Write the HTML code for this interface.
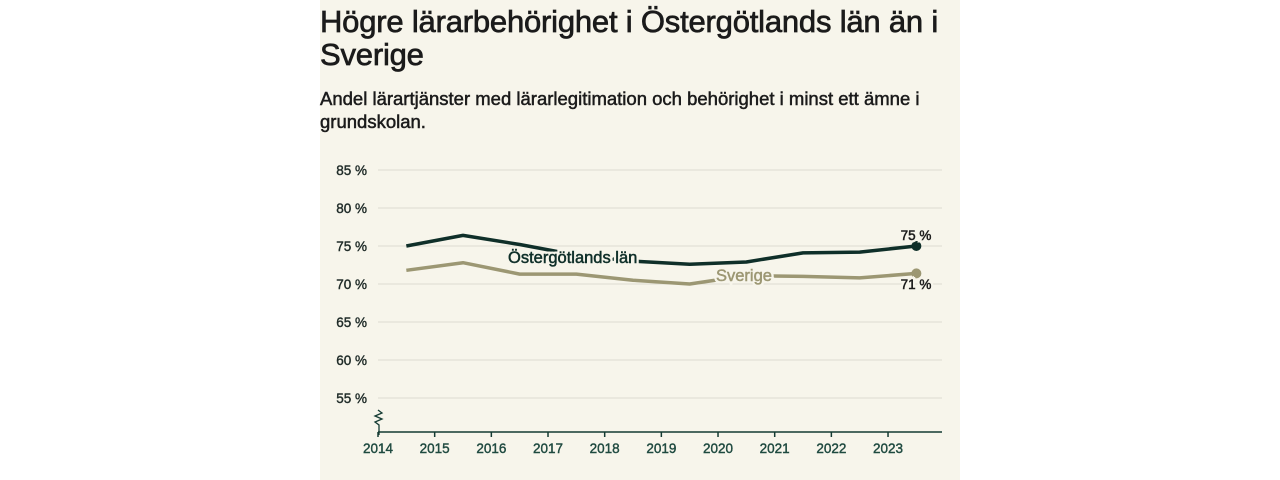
<!DOCTYPE html>
<html><head><meta charset="utf-8"><style>
body{margin:0;width:1280px;height:480px;background:#fff;font-family:"Liberation Sans",sans-serif;overflow:hidden}
#panel{position:absolute;left:320px;top:0;width:640px;height:480px;background:#f7f5eb}
h1{position:absolute;left:320px;top:5px;margin:0;width:640px;font-size:31px;line-height:33px;font-weight:normal;-webkit-text-stroke:0.7px #1b1b1b;color:#1b1b1b;letter-spacing:-0.2px}
h2{position:absolute;left:320px;top:87px;margin:0;width:640px;font-size:18.5px;line-height:23px;font-weight:normal;-webkit-text-stroke:0.5px #1b1b1b;color:#1b1b1b}
svg{position:absolute;left:0;top:0}
</style></head><body>
<div id="panel"></div>
<h1>Högre lärarbehörighet i Östergötlands län än i Sverige</h1>
<h2>Andel lärartjänster med lärarlegitimation och behörighet i minst ett ämne i grundskolan.</h2>
<svg id="c" width="1280" height="480"></svg>
<script>
const years=[2014,2015,2016,2017,2018,2019,2020,2021,2022,2023];
const yTicks=[55,60,65,70,75,80,85];
const ostValues=[75.0,76.4,75.2,73.8,73.0,72.6,72.9,74.1,74.2,75.0];
const sveValues=[71.8,72.8,71.3,71.3,70.5,70.0,71.1,71.0,70.8,71.4];
const NS="http://www.w3.org/2000/svg",svg=document.getElementById('c');
const x=v=>378+(v-2014)*56.67, y=v=>284-(v-70)*7.6;
function el(t,a,p){const e=document.createElementNS(NS,t);for(const k in a)e.setAttribute(k,a[k]);(p||svg).appendChild(e);return e;}
yTicks.forEach(t=>{
 const g=el('line',{x1:378,x2:942,y1:y(t),y2:y(t),stroke:'#dddbd0','stroke-width':1});
 
 
 const l=el('text',{x:367,y:y(t)+5,'text-anchor':'end','font-size':13.5,fill:'#1f2b28',stroke:'#1f2b28','stroke-width':0.4});l.textContent=t+' %';
 
 
});
const ax=el('line',{x1:378,x2:942,y1:432,y2:432,stroke:'#143b33','stroke-width':1.5});


const br=el('path',{d:'M378 410 l4 3 l-7 3 l7 3 l-7 3 l4 3 v10',fill:'none',stroke:'#143b33','stroke-width':1.3});


years.forEach(yr=>{
 const t=el('line',{x1:x(yr),x2:x(yr),y1:432,y2:437,stroke:'#143b33','stroke-width':1.5});
 
 
 const l=el('text',{x:x(yr),y:453,'text-anchor':'middle','font-size':13.5,fill:'#1f4a40',stroke:'#1f4a40','stroke-width':0.4});l.textContent=yr;
 
 
});
function series(vals,color,name){
 const d=vals.map((v,i)=>(i?'L':'M')+x(years[i]+0.5)+' '+y(v)).join(' ');
 const p=el('path',{d:d,fill:'none',stroke:color,'stroke-width':3.5,'stroke-linejoin':'round'});
 
 
 const n=vals.length-1;
 const c=el('circle',{cx:x(years[n]+0.5),cy:y(vals[n]),r:5,fill:color});
 
 
}
series(sveValues,'#9c9773','sverige');
series(ostValues,'#0f2f29','ostergotland');
function lab(txt,xx,yy,color,name,size,anchor){
 const h=el('text',{x:xx,y:yy,'font-size':size,fill:'#f7f5eb',stroke:'#f7f5eb','stroke-width':5,'text-anchor':anchor||'start'});h.textContent=txt;
 
 
 const t=el('text',{x:xx,y:yy,'font-size':size,fill:color,stroke:color,'stroke-width':0.5,'text-anchor':anchor||'start'});t.textContent=txt;
 
 
}
lab('Östergötlands län',508,263,'#0f2f29','ostergotland-label',16.5);
lab('Sverige',716,281,'#9c9773','sverige-label',16.5);
const n=ostValues.length-1;
lab(ostValues[n].toFixed(0)+' %',916,240,'#1b1b1b','ostergotland-value-label',13.5,'middle');
lab(sveValues[n].toFixed(0)+' %',916,289,'#1b1b1b','sverige-value-label',13.5,'middle');
</script>
</body></html>
